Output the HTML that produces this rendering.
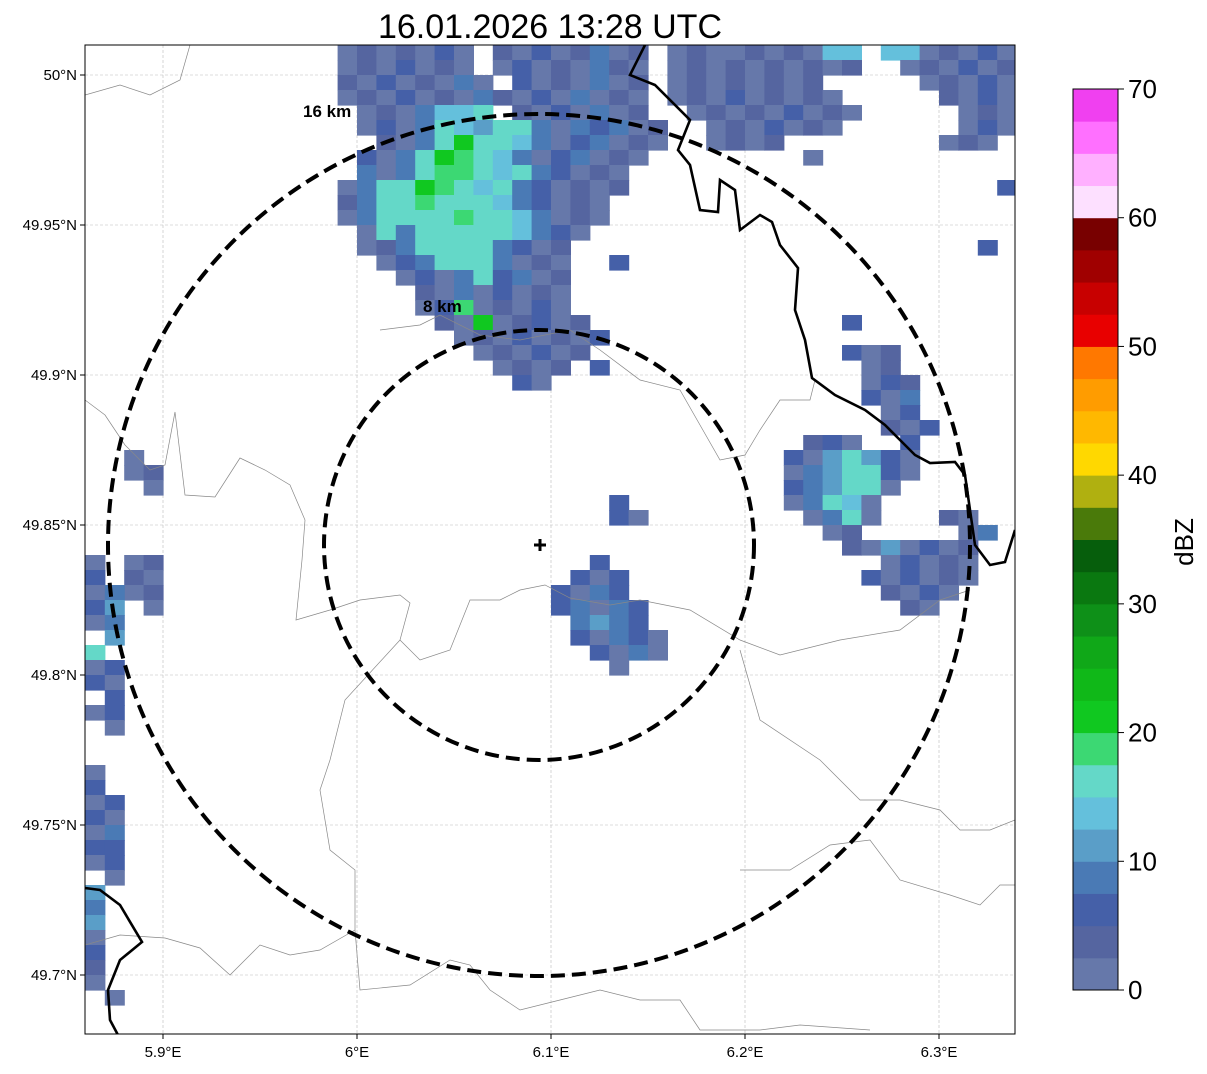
<!DOCTYPE html>
<html><head><meta charset="utf-8"><style>
body{margin:0;background:#fff;font-family:"Liberation Sans",sans-serif;}
</style></head><body>
<svg id="chart" width="1207" height="1069" viewBox="0 0 1207 1069" xmlns="http://www.w3.org/2000/svg" font-family="Liberation Sans, sans-serif">
<defs><clipPath id="ax"><rect x="85" y="45" width="930" height="989"/></clipPath></defs>
<rect width="1207" height="1069" fill="#fff"/>
<text x="550" y="38" font-size="34" text-anchor="middle">16.01.2026 13:28 UTC</text>
<g id="grid"></g>
<g id="radar" clip-path="url(#ax)"></g>
<g clip-path="url(#ax)" fill="none">
<path stroke="#888" stroke-width="0.7" d="M85,400 L105,415 L125,445 L150,470 L165,465 L175,412 L185,495 L215,497 L240,458 L265,470 L290,485 L305,520 L302,560 L296,620 L330,610 L360,600 L400,595 L410,603 L400,640 L420,660 L450,650 L470,600 L500,600 L520,590 L545,585 L570,598 L610,605 L640,600 L690,610 L740,640 L780,655 L840,640 L900,630 L940,600 L970,590"/>
<path stroke="#888" stroke-width="0.7" d="M85,95 L120,85 L150,95 L180,80 L190,45"/>
<path stroke="#888" stroke-width="0.7" d="M380,330 L420,325 L440,315 L480,335 L520,340 L570,330 L600,350 L640,380 L680,390 L720,460 L745,455 L760,430 L780,400 L810,400 L815,380"/>
<path stroke="#888" stroke-width="0.7" d="M400,640 L345,700 L330,760 L320,790 L330,850 L355,870 L355,930 L360,990 L410,985 L450,960 L470,965 L490,990 L520,1010 L560,1000 L600,990 L640,1000 L680,1000 L700,1030 L760,1030 L800,1025 L870,1030"/>
<path stroke="#888" stroke-width="0.7" d="M85,945 L120,935 L165,938 L200,948 L230,975 L260,945 L290,955 L320,950 L355,930"/>
<path stroke="#888" stroke-width="0.7" d="M740,650 L760,720 L820,760 L860,800 L900,800 L940,810 L960,830 L990,830 L1015,820"/>
<path stroke="#888" stroke-width="0.7" d="M740,870 L790,870 L830,845 L870,840 L900,880 L950,895 L980,905 L1000,885 L1015,885"/>
<path stroke="#000" stroke-width="2.6" d="M645,45 L630,75 L655,85 L690,120 L678,150 L690,165 L700,210 L718,212 L720,180 L735,190 L740,230 L760,215 L772,222 L780,245 L798,268 L795,310 L805,340 L812,378 L835,395 L865,410 L885,425 L900,440 L915,455 L930,463 L955,462 L965,475 L970,510 L975,545 L990,565 L1005,562 L1015,530"/>
<path stroke="#000" stroke-width="2.6" d="M85,888 L100,890 L120,905 L142,942 L120,960 L108,990 L110,1020 L118,1035"/>
</g>
<g fill="none" stroke="#000" stroke-width="4" stroke-dasharray="14 7">
<circle cx="539" cy="545" r="431"/>
<circle cx="539" cy="545" r="215"/>
</g>
<text x="303" y="117" font-size="17" font-weight="bold">16 km</text>
<text x="423" y="312" font-size="17" font-weight="bold">8 km</text>
<path d="M534,545 H546 M540,539 V551" stroke="#000" stroke-width="3"/>
<rect x="85" y="45" width="930" height="989" fill="none" stroke="#000" stroke-width="1"/>
<g id="ticks"></g>
<g id="cbar"></g>
<text x="1193" y="542" font-size="26" text-anchor="middle" transform="rotate(-90 1193 542)">dBZ</text>
</svg>
<script>
const NS="http://www.w3.org/2000/svg";
const lonTicks=[5.9,6.0,6.1,6.2,6.3];
const lonLabels=["5.9°E","6°E","6.1°E","6.2°E","6.3°E"];
const latTicks=[50.0,49.95,49.9,49.85,49.8,49.75,49.7];
const latLabels=["50°N","49.95°N","49.9°N","49.85°N","49.8°N","49.75°N","49.7°N"];
const cbarTicks=[0,10,20,30,40,50,60,70];
const levelColors=["#6678aa","#5565a0","#4560a8","#4a7ab5","#5a9ec8","#64c0dc","#64d8c8","#3cd873","#10c820","#10b818","#10a818","#0e9018","#0a7810","#065e0c","#4a7a0a","#b0b010","#ffd800","#ffb800","#ff9c00","#ff7800","#e80000","#c80000","#a00000","#780000","#fde0ff","#ffb0ff","#ff70ff","#f040f0"];
const gridLon0=5.86, gridLat0=50.01, dLon=0.01, dLat=0.005;
const runs=[[0,13,"1212131"],[0,21,"21312412"],[0,30,"1211212166"],[0,41,"6612131"],
[1,13,"1213121"],[1,21,"13121421"],[1,30,"1212121212"],[1,42,"121312"],
[2,13,"21312141"],[2,22,"3121412"],[2,30,"12121212"],[2,43,"12131"],
[3,13,"12131214"],[3,21,"21314121"],[3,30,"121312121"],[3,44,"2131"],
[4,14,"1214667"],[4,22,"2131412"],[4,31,"121213121"],[4,45,"121"],
[5,14,"1314765774143412"],[5,32,"1213121"],[5,45,"131"],
[6,15,"214797764134121"],[6,32,"1212"],[6,44,"121"],
[7,14,"314798764134121"],[7,37,"1"],
[8,14,"41478876743121"],
[9,13,"147798767431212"],[9,47,"3"],
[10,13,"24778777643121"],[11,13,"14777787764121"],[12,14,"174777776431"],
[13,14,"12477774312"],[13,46,"3"],[14,15,"1347774121"],[14,27,"3"],
[15,16,"131473412"],[16,17,"21413121"],[17,17,"13812131"],
[18,18,"21912312"],[18,39,"3"],[19,19,"1213121"],[19,26,"3"],
[20,20,"121312"],[20,39,"312"],[21,21,"1212"],[21,26,"3"],[21,40,"12"],
[22,22,"31"],[22,40,"132"],[23,40,"314"],[24,41,"13"],[25,41,"213"],
[26,37,"231"],[26,42,"3"],[27,36,"3157531"],[27,2,"1"],
[28,36,"1457731"],[28,2,"12"],[29,36,"345771"],[29,3,"1"],
[30,36,"14761"],[30,27,"3"],[31,37,"1471"],[31,27,"31"],[31,44,"21"],
[32,38,"12"],[32,45,"14"],[33,39,"21"],[33,41,"51312"],
[34,41,"13121"],[34,26,"3"],[34,2,"12"],[34,0,"1"],
[35,40,"313121"],[35,25,"313"],[35,2,"21"],[35,0,"3"],
[36,41,"2131"],[36,24,"3143"],[36,2,"12"],[36,0,"14"],
[37,42,"21"],[37,24,"34143"],[37,3,"1"],[37,0,"35"],
[38,25,"4543"],[38,0,"14"],[39,25,"31431"],[39,1,"5"],
[40,26,"3141"],[40,0,"7"],[41,27,"1"],[41,0,"13"],[42,0,"31"],[43,1,"3"],[44,0,"13"],[45,1,"1"],
[48,0,"1"],[49,0,"3"],[50,0,"13"],[51,0,"31"],[52,0,"14"],[53,0,"33"],[54,0,"13"],[55,1,"1"],
[56,0,"5"],[57,0,"4"],[58,0,"5"],[59,0,"1"],[60,0,"3"],[61,0,"2"],[62,0,"1"],[63,1,"1"]];

const X=lon=>163+(lon-5.9)*1940;
const Y=lat=>75+(50-lat)*3000;
const CB=v=>990-v*(901/70);
function mk(tag,attrs,parent){const e=document.createElementNS(NS,tag);for(const k in attrs)e.setAttribute(k,attrs[k]);parent.appendChild(e);return e;}
const grid=document.getElementById('grid'),ticks=document.getElementById('ticks');
lonTicks.forEach((v,i)=>{
  const l=mk('line',{x1:X(v),x2:X(v),y1:45,y2:1034,stroke:'#bbb','stroke-width':0.6,'stroke-dasharray':'3 2'},grid);
  
  
  const t=mk('line',{x1:X(v),x2:X(v),y1:1034,y2:1039,stroke:'#000'},ticks);
  
  
  const tx=mk('text',{x:X(v),y:1057,'font-size':15,'text-anchor':'middle'},ticks);tx.textContent=lonLabels[i];
  
  
});
latTicks.forEach((v,i)=>{
  const l=mk('line',{x1:85,x2:1015,y1:Y(v),y2:Y(v),stroke:'#bbb','stroke-width':0.6,'stroke-dasharray':'3 2'},grid);
  
  
  const t=mk('line',{x1:80,x2:85,y1:Y(v),y2:Y(v),stroke:'#000'},ticks);
  
  
  const tx=mk('text',{x:77,y:Y(v)+5,'font-size':15,'text-anchor':'end'},ticks);tx.textContent=latLabels[i];
  
  
});
const radar=document.getElementById('radar');
runs.forEach(([r,c,s])=>{
  for(let k=0;k<s.length;k++){
    const lev=parseInt(s[k])-1;
    const lon=gridLon0+(c+k)*dLon, lat=gridLat0-r*dLat;
    const x0=X(lon),y0=Y(lat);
    const e=mk('rect',{x:x0,y:y0,width:X(lon+dLon)-x0+0.6,height:Y(lat-dLat)-y0+0.6,fill:levelColors[lev]},radar);
    
    
  }
});
const cbar=document.getElementById('cbar');
levelColors.forEach((col,i)=>{
  const v=i*2.5;
  const e=mk('rect',{x:1073,y:CB(v+2.5),width:45,height:CB(v)-CB(v+2.5)+0.5,fill:col},cbar);
  
  
});
mk('rect',{x:1073,y:CB(70),width:45,height:CB(0)-CB(70),fill:'none',stroke:'#000','stroke-width':1},cbar);
cbarTicks.forEach(v=>{
  const t=mk('line',{x1:1118,x2:1124,y1:CB(v),y2:CB(v),stroke:'#000'},cbar);
  
  
  const tx=mk('text',{x:1128,y:CB(v)+9,'font-size':26},cbar);tx.textContent=v;
  
  
});
</script>
</body></html>
